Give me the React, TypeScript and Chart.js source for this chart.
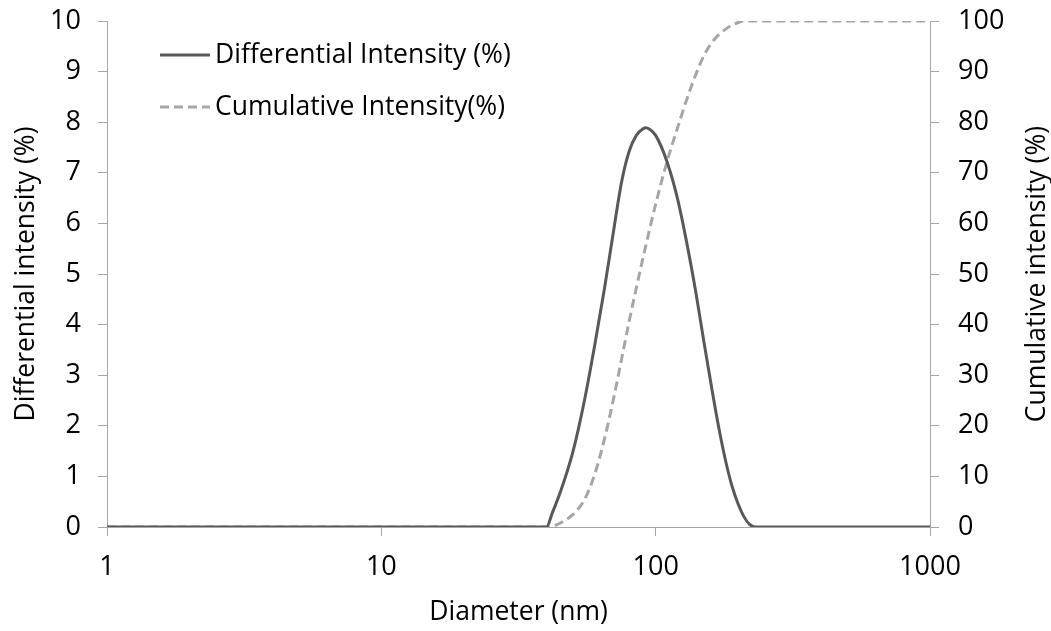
import React, { useEffect, useRef } from "react";
import { Chart, registerables } from "chart.js";

Chart.register(...registerables);

const diameters = [1, 40, 42, 45, 50, 55, 60, 65, 70, 75, 80, 85, 90, 92, 95, 100, 110, 120, 130, 140, 150, 160, 170, 180, 190, 200, 210, 220, 230, 1000];
const differential = [0, 0, 0.28, 0.7, 1.5, 2.5, 3.6, 4.7, 5.8, 6.8, 7.42, 7.74, 7.87, 7.89, 7.86, 7.74, 7.22, 6.5, 5.6, 4.65, 3.65, 2.75, 1.95, 1.3, 0.8, 0.45, 0.2, 0.05, 0, 0];
const cumulative = [0, 0, 0.15, 0.8, 2.5, 5.4, 10.5, 17.3, 25, 33, 40.6, 47.2, 53.3, 55.5, 58.8, 63.8, 72.2, 78.8, 84.6, 89.4, 93.2, 95.7, 97.3, 98.4, 99.2, 99.7, 100, 100, 100, 100];

const xTicks = [1, 10, 100, 1000];
const seriesNames = ["Differential Intensity (%)", "Cumulative Intensity(%)"];
const xTitle = "Diameter (nm)";
const yTitle = "Differential intensity (%)";
const y1Title = "Cumulative intensity (%)";

const FONT = "'Open Sans'";
const AXIS_COLOR = "#a6a6a6";
const TICK_SIZE = 27;
const TEXT_SIZE = 26.5;

export default function App() {
  const ref = useRef<HTMLCanvasElement | null>(null);

  useEffect(() => {
    const canvas = ref.current;
    if (!canvas) return;

    const overlayPlugin = {
      id: "overlayText",
      afterDraw(chart: any) {
        const ctx = chart.ctx;
        ctx.save();
        const rows = [55, 107];
        chart.data.datasets.forEach((ds: any, i: number) => {
          const y = rows[i];
          ctx.beginPath();
          ctx.strokeStyle = ds.borderColor;
          ctx.lineWidth = ds.borderWidth;
          ctx.setLineDash(ds.borderDash || []);
          ctx.moveTo(160, y);
          ctx.lineTo(210, y);
          ctx.stroke();
          ctx.setLineDash([]);
          ctx.fillStyle = "#000";
          ctx.font = `${TEXT_SIZE}px ${FONT}`;
          ctx.textBaseline = "middle";
          ctx.textAlign = "left";
          ctx.fillText(ds.label, 215, y);
        });
        // right axis title, reading bottom-to-top
        const area = chart.chartArea;
        ctx.translate(1037, (area.top + area.bottom) / 2);
        ctx.rotate(-Math.PI / 2);
        ctx.textAlign = "center";
        ctx.textBaseline = "middle";
        ctx.font = `${TEXT_SIZE}px ${FONT}`;
        ctx.fillStyle = "#000";
        ctx.fillText(y1Title, 0, 0);
        ctx.restore();
      },
    };

    const noPadV = (w: number) => (scale: any) => {
      scale.width = w;
      scale.paddingTop = 0;
      scale.paddingBottom = 0;
    };

    const chart = new Chart(canvas, {
      type: "line",
      data: {
        datasets: [
          {
            label: seriesNames[0],
            data: diameters.map((d, i) => ({ x: d, y: differential[i] })),
            borderColor: "#595959",
            borderWidth: 3,
            pointRadius: 0,
            cubicInterpolationMode: "monotone",
            yAxisID: "y",
            fill: false,
          },
          {
            label: seriesNames[1],
            data: diameters.map((d, i) => ({ x: d, y: cumulative[i] })),
            borderColor: "#a6a6a6",
            borderWidth: 3,
            borderDash: [9, 5],
            pointRadius: 0,
            cubicInterpolationMode: "monotone",
            yAxisID: "y1",
            fill: false,
          },
        ],
      },
      options: {
        responsive: false,
        animation: false,
        layout: { padding: { top: 21, left: 0, right: 0, bottom: 0 } },
        plugins: { legend: { display: false }, tooltip: { enabled: false } },
        scales: {
          x: {
            type: "logarithmic",
            position: "bottom",
            min: 1,
            max: 1000,
            afterBuildTicks: (scale: any) => {
              scale.ticks = xTicks.map((v) => ({ value: v }));
            },
            afterFit: (scale: any) => {
              scale.height = 104;
              scale.paddingLeft = 0;
              scale.paddingRight = 0;
            },
            grid: { drawOnChartArea: false, drawTicks: true, tickLength: 9, color: AXIS_COLOR },
            border: { display: true, color: AXIS_COLOR, width: 1 },
            ticks: {
              autoSkip: false,
              maxRotation: 0,
              color: "#000",
              font: { family: FONT, size: TICK_SIZE },
              padding: 15,
              callback: (v: any) => String(v),
            },
            title: {
              display: true,
              text: xTitle,
              color: "#000",
              font: { family: FONT, size: TEXT_SIZE },
              padding: { top: 0, bottom: 3 },
            },
          },
          y: {
            position: "left",
            min: 0,
            max: 10,
            afterFit: noPadV(107),
            grid: { drawOnChartArea: false, drawTicks: true, tickLength: 9, color: AXIS_COLOR },
            border: { display: true, color: AXIS_COLOR, width: 1 },
            ticks: {
              stepSize: 1,
              color: "#000",
              font: { family: FONT, size: TICK_SIZE },
              padding: 17,
            },
            title: {
              display: true,
              text: yTitle,
              color: "#000",
              font: { family: FONT, size: TEXT_SIZE },
              padding: { top: 11, bottom: 0 },
            },
          },
          y1: {
            position: "right",
            min: 0,
            max: 100,
            afterFit: noPadV(121),
            grid: { drawOnChartArea: false, drawTicks: true, tickLength: 9, color: AXIS_COLOR },
            border: { display: true, color: AXIS_COLOR, width: 1 },
            ticks: {
              stepSize: 10,
              color: "#000",
              font: { family: FONT, size: TICK_SIZE },
              padding: 19,
            },
            title: { display: false },
          },
        },
      },
      plugins: [overlayPlugin],
    } as any);

    return () => chart.destroy();
  }, []);

  return (
    <div style={{ position: "fixed", left: 0, top: 0, width: 1051, height: 631, background: "#fff" }}>
      <canvas ref={ref} width={1051} height={631} style={{ display: "block" }} />
    </div>
  );
}
